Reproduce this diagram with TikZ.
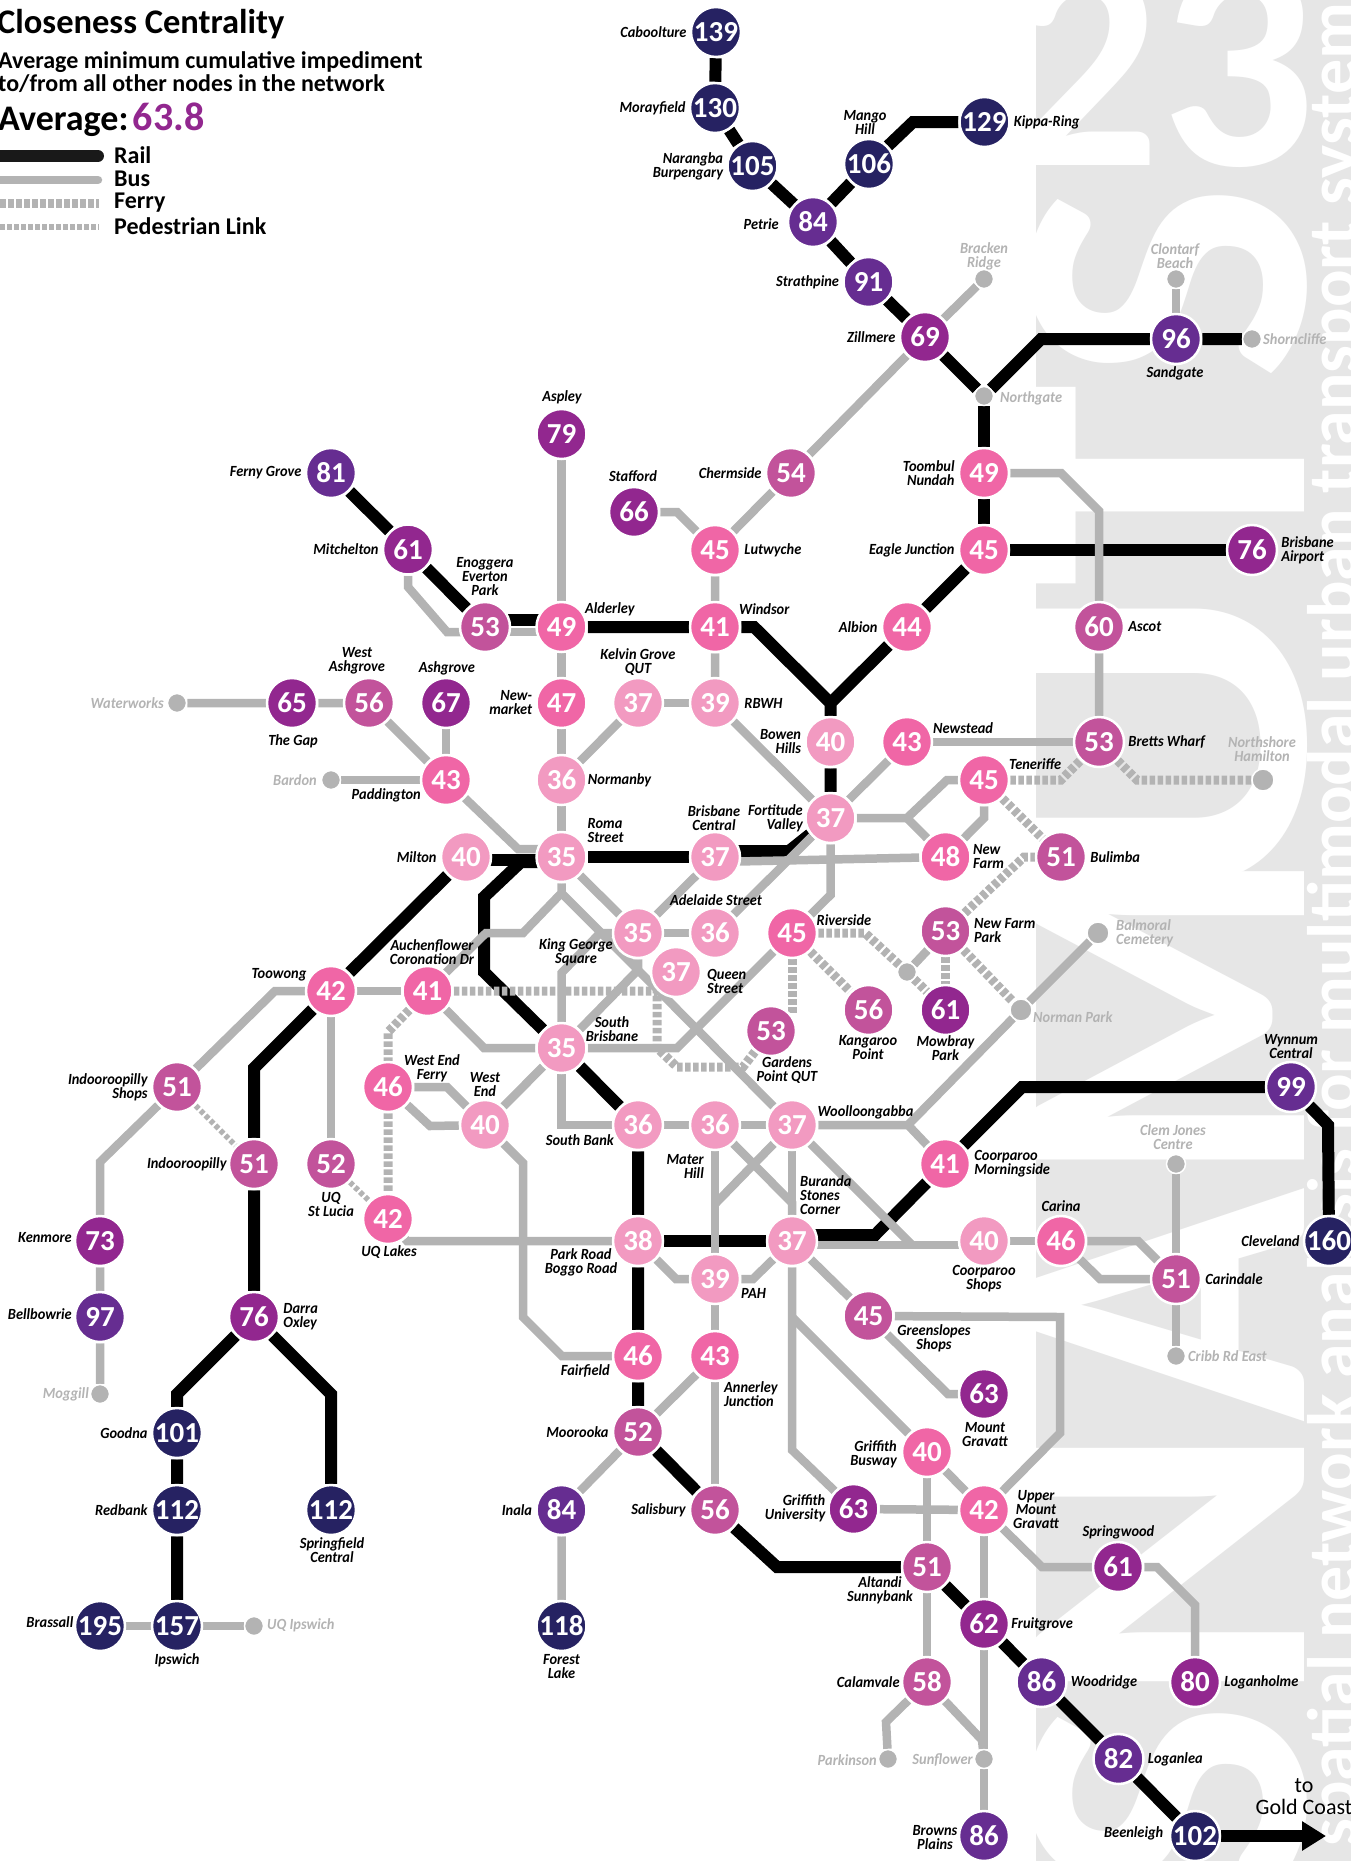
\documentclass[tikz,border=0pt]{standalone}
\usepackage{fontspec}
\setmainfont{Carlito}
\newfontfamily\labfont[FakeStretch=0.93]{Carlito}
\usetikzlibrary{positioning,backgrounds,arrows.meta}
\definecolor{litc}{HTML}{F29AC1}
\definecolor{hotc}{HTML}{F066A6}
\definecolor{mauc}{HTML}{C2539B}
\definecolor{plmc}{HTML}{92278F}
\definecolor{vioc}{HTML}{662D91}
\definecolor{navc}{HTML}{262262}
\definecolor{lnec}{HTML}{B3B3B3}
\definecolor{bakc}{HTML}{E6E6E6}
\tikzset{
    stn/.style={
        circle,
        draw=white,
        line width=2.5pt,
        minimum size=50pt,
        inner sep=0pt,
        text=white,
        font=\bfseries\fontsize{29}{29}\selectfont,
    },
    lit/.style={stn,fill=litc},
    hot/.style={stn,fill=hotc},
    mau/.style={stn,fill=mauc},
    plm/.style={stn,fill=plmc},
    vio/.style={stn,fill=vioc},
    nav/.style={stn,fill=navc},
    stp/.style={
        circle,
        draw=white,
        line width=1.5pt,
        fill=lnec,
        minimum size=19pt,
        inner sep=0pt,
    },
    lab/.style={
        inner sep=0pt,
        font=\labfont\bfseries\itshape\fontsize{15.5}{14}\selectfont,
    },
    labl/.style={lab,anchor=east,align=right},
    labr/.style={lab,anchor=west,align=left},
    labc/.style={lab,anchor=center,align=center},
    dim/.style={text=lnec},
    rail/.style={draw=black,line width=12pt},
    bus/.style={draw=lnec,line width=8.5pt},
    ferry/.style={draw=lnec,line width=9pt,dash pattern=on 5.5pt off 2.5pt},
    ped/.style={draw=lnec,line width=5.5pt,dash pattern=on 4.5pt off 2.5pt},
    leg/.style={inner sep=0pt,anchor=west,font=\bfseries\fontsize{24}{24}\selectfont},
    ttlt/.style={inner sep=0pt,anchor=base west},
    bigl/.style={inner sep=0pt,rotate=90,anchor=base,text=white,font=\bfseries\fontsize{420}{420}\selectfont},
}

\begin{document}
\begin{tikzpicture}[x=1pt,y=-1pt]
\useasboundingbox (0,0) rectangle (1351,1861);

\node[nav] (cab) at (716,32) {139};
\node[nav] (mor) at (715,108) {130};
\node[nav] (nar) at (752.5,166) {105};
\node[nav] (man) at (869,164) {106};
\node[nav] (kip) at (984.5,122) {129};
\node[vio] (pet) at (813,222) {84};
\node[vio] (str) at (868.5,282) {91};
\node[plm] (zil) at (925,337) {69};
\node[stp] (bra) at (984,279) {};
\node[stp] (nor) at (984,396) {};
\node[vio] (san) at (1176,339) {96};
\node[stp] (clo) at (1176,279) {};
\node[stp] (sho) at (1252,339) {};
\node[mau] (che) at (791,473) {54};
\node[hot] (too) at (984,473) {49};
\node[plm] (asp) at (561.5,434) {79};
\node[vio] (fer) at (331,473) {81};
\node[plm] (mit) at (408,549.5) {61};
\node[plm] (sta) at (634,512) {66};
\node[hot] (lut) at (715,550) {45};
\node[hot] (eag) at (984,550) {45};
\node[plm] (air) at (1252,550) {76};
\node[mau] (eno) at (485,627) {53};
\node[hot] (ald) at (561.5,627) {49};
\node[hot] (win) at (715,627) {41};
\node[hot] (alb) at (907,627) {44};
\node[mau] (asc) at (1099,627) {60};
\node[plm] (gap) at (292,703) {65};
\node[mau] (wes) at (369,703) {56};
\node[plm] (ash) at (446,703) {67};
\node[hot] (new) at (561.5,703) {47};
\node[lit] (kel) at (638,703) {37};
\node[lit] (rbw) at (715,703) {39};
\node[stp] (wat) at (177,703) {};
\node[lit] (bow) at (830.5,742) {40};
\node[hot] (nws) at (907,742) {43};
\node[mau] (bre) at (1099,742) {53};
\node[stp] (bar) at (331,780) {};
\node[hot] (pad) at (446,780) {43};
\node[lit] (nmb) at (561.5,780) {36};
\node[hot] (ten) at (984,780) {45};
\node[stp,minimum size=22pt] (nsh) at (1263,780) {};
\node[lit] (for) at (830.5,818) {37};
\node[lit] (mil) at (466,857) {40};
\node[lit] (rom) at (561.5,857) {35};
\node[lit] (cen) at (715,857) {37};
\node[hot] (nfa) at (945.5,857) {48};
\node[mau] (bul) at (1061,857) {51};
\node[lit] (kgs) at (638,933) {35};
\node[lit] (ade) at (715,933) {36};
\node[hot] (riv) at (792,933) {45};
\node[mau] (nfp) at (945.5,931) {53};
\node[stp,minimum size=22pt] (bal) at (1098,933) {};
\node[lit] (que) at (676,972) {37};
\node[stp] (gry) at (907,972) {};
\node[hot] (toe) at (331,991) {42};
\node[hot] (auc) at (427.5,991) {41};
\node[mau] (kan) at (868.5,1010) {56};
\node[plm] (mow) at (945.5,1010) {61};
\node[stp,minimum size=22pt] (nop) at (1021,1010) {};
\node[mau] (gar) at (771,1031) {53};
\node[lit] (sbr) at (561.5,1048) {35};
\node[mau] (ish) at (177,1087) {51};
\node[hot] (wef) at (388,1087) {46};
\node[vio] (wyn) at (1291,1087) {99};
\node[lit] (wen) at (485,1125) {40};
\node[lit] (sba) at (638,1125) {36};
\node[lit] (mat) at (715,1125) {36};
\node[lit] (woo) at (792,1125) {37};
\node[mau] (ind) at (254,1164) {51};
\node[mau] (stl) at (331,1164) {52};
\node[hot] (cmo) at (945,1164) {41};
\node[stp] (clj) at (1176,1164) {};
\node[hot] (uql) at (388,1219) {42};
\node[plm] (ken) at (100,1241) {73};
\node[lit] (prk) at (638,1241) {38};
\node[lit] (bur) at (792,1241) {37};
\node[lit] (coo) at (984,1241) {40};
\node[hot] (car) at (1061,1241) {46};
\node[nav] (cle) at (1329,1241) {160};
\node[lit] (pah) at (715,1279) {39};
\node[mau] (cdl) at (1176,1279) {51};
\node[vio] (bel) at (100,1317) {97};
\node[plm] (dar) at (254,1317) {76};
\node[mau] (grs) at (868.5,1316) {45};
\node[hot] (fai) at (638,1356) {46};
\node[hot] (ann) at (715,1356) {43};
\node[stp] (cri) at (1176,1356) {};
\node[stp] (mog) at (100,1394) {};
\node[plm] (mtg) at (984,1394) {63};
\node[nav] (goo) at (177,1433) {101};
\node[mau] (moo) at (638,1432) {52};
\node[hot] (gbw) at (927,1452) {40};
\node[nav] (red) at (177,1510) {112};
\node[nav] (spf) at (331,1510) {112};
\node[vio] (ina) at (561.5,1510) {84};
\node[mau] (sal) at (715,1510) {56};
\node[plm] (gun) at (853.5,1509) {63};
\node[hot] (umg) at (984,1510) {42};
\node[mau] (alt) at (927,1567) {51};
\node[plm] (spw) at (1118,1567) {61};
\node[nav] (bsl) at (100,1626) {195};
\node[nav] (ips) at (177,1626) {157};
\node[stp] (uqi) at (254,1626) {};
\node[nav] (fla) at (561.5,1626) {118};
\node[plm] (fru) at (984,1624) {62};
\node[mau] (cal) at (927,1682) {58};
\node[vio] (wdr) at (1041.5,1682) {86};
\node[plm] (lgh) at (1195,1682) {80};
\node[stp] (par) at (888,1759) {};
\node[stp] (sun) at (984,1759) {};
\node[vio] (lgl) at (1118.5,1759) {82};
\node[vio] (brp) at (984,1836) {86};
\node[nav] (bee) at (1195,1836) {102};
\coordinate (gol) at (1326,1836);

\node[labl,left=3pt of cab] (lcab) {Caboolture};
\node[labl,left=3pt of mor] (lmor) {Morayfield};
\node[labl,left=3pt of nar] (lnar) {Narangba\\Burpengary};
\node[labc] (lman) at (865,122) {Mango\\Hill};
\node[labr,right=3pt of kip] (lkip) {Kippa-Ring};
\node[labl] (lpet) at (779,224) {Petrie};
\node[labl,left=3pt of str] (lstr) {Strathpine};
\node[labl,left=3pt of zil] (lzil) {Zillmere};
\node[labc,dim] (lbra) at (984,256) {Bracken\\Ridge};
\node[labc,dim] (lclo) at (1175,256) {Clontarf\\Beach};
\node[labr,dim] (lsho) at (1263,339) {Shorncliffe};
\node[labc] (lsan) at (1175,373) {Sandgate};
\node[labr,dim] (lnor) at (1000,398) {Northgate};
\node[labl,left=3pt of che] (lche) {Chermside};
\node[labl,left=3pt of too] (ltoo) {Toombul\\Nundah};
\node[labc] (lasp) at (562,397) {Aspley};
\node[labl,left=3pt of fer] (lfer) {Ferny Grove};
\node[labc] (lsta) at (633,476) {Stafford};
\node[labl,left=3pt of mit] (lmit) {Mitchelton};
\node[labc] (leno) at (485,577) {Enoggera\\Everton\\Park};
\node[labr,right=3pt of lut] (llut) {Lutwyche};
\node[labl,left=3pt of eag] (leag) {Eagle Junction};
\node[labr,right=3pt of air] (lair) {Brisbane\\Airport};
\node[labr] (lald) at (585,609) {Alderley};
\node[labr] (lwin) at (739,609) {Windsor};
\node[labl,left=3pt of alb] (lalb) {Albion};
\node[labr,right=3pt of asc] (lasc) {Ascot};
\node[labc] (lwes) at (357,661) {West\\Ashgrove};
\node[labc] (lash) at (447,668) {Ashgrove};
\node[labl,left=3pt of new] (lnew) {New-\\market};
\node[labc] (lkel) at (638,662) {Kelvin Grove\\QUT};
\node[labr,right=3pt of rbw] (lrbw) {RBWH};
\node[labc] (lgap) at (293,741) {The Gap};
\node[labl,dim] (lwat) at (164,703) {Waterworks};
\node[labl,dim] (lbar) at (317,780) {Bardon};
\node[labl] (lpad) at (421,795) {Paddington};
\node[labr,right=0pt of nmb] (lnmb) {Normanby};
\node[labl,left=3pt of mil] (lmil) {Milton};
\node[labr] (lrom) at (587.5,831) {Roma\\Street};
\node[labc] (lcen) at (714,818) {Brisbane\\Central};
\node[labl] (lfor) at (803,818) {Fortitude\\Valley};
\node[labl,left=3pt of bow] (lbow) {Bowen\\Hills};
\node[labr] (lnws) at (933,728) {Newstead};
\node[labr,right=3pt of bre] (lbre) {Bretts Wharf};
\node[labc,dim] (lnsh) at (1262,749) {Northshore\\Hamilton};
\node[labr] (lten) at (1009,764) {Teneriffe};
\node[labr] (lnfa) at (973,857) {New\\Farm};
\node[labr,right=3pt of bul] (lbul) {Bulimba};
\node[labr] (lriv) at (816.5,920) {Riverside};
\node[labr] (lnfp) at (974,931) {New Farm\\Park};
\node[labc] (lade) at (716,900) {Adelaide Street};
\node[labc] (lauc) at (432,952) {Auchenflower\\Coronation Dr};
\node[labc] (lkgs) at (576,952) {King George\\Square};
\node[labr] (lque) at (707,981) {Queen\\Street};
\node[labc] (ltoe) at (279,975) {Toowong};
\node[labc] (lsbr) at (612,1029) {South\\Brisbane};
\node[labc] (lgar) at (787,1070) {Gardens\\Point QUT};
\node[labc] (lkan) at (868,1048) {Kangaroo\\Point};
\node[labc] (lmow) at (945.5,1048) {Mowbray\\Park};
\node[labr,dim] (lnop) at (1033,1017) {Norman Park};
\node[labr,dim] (lbal) at (1116,933) {Balmoral\\Cemetery};
\node[labc] (lwyn) at (1291,1047) {Wynnum\\Central};
\node[labc] (lwef) at (432,1068) {West End\\Ferry};
\node[labc] (lwen) at (485,1085) {West\\End};
\node[labr] (lwoo) at (817.5,1112) {Woolloongabba};
\node[labl,left=3pt of ish] (lish) {Indooroopilly\\Shops};
\node[labl,left=1pt of ind] (lind) {Indooroopilly};
\node[labc] (lstl) at (331,1204) {UQ\\St Lucia};
\node[labc] (luql) at (389,1252) {UQ Lakes};
\node[labl] (lken) at (72,1238) {Kenmore};
\node[labl] (lbel) at (72,1314) {Bellbowrie};
\node[labr,right=3pt of dar] (ldar) {Darra\\Oxley};
\node[labl,dim] (lmog) at (89,1394) {Moggill};
\node[labl,left=3pt of goo] (lgoo) {Goodna};
\node[labl,left=3pt of red] (lred) {Redbank};
\node[labl] (lbsl) at (73.5,1622) {Brassall};
\node[labc] (lips) at (177,1660) {Ipswich};
\node[labc] (lspf) at (332,1550) {Springfield\\Central};
\node[labr,dim] (luqi) at (267,1625) {UQ Ipswich};
\node[labl] (lsba) at (614,1140) {South Bank};
\node[labl] (lmat) at (704,1166) {Mater\\Hill};
\node[labr] (lbur) at (800,1195) {Buranda\\Stones\\Corner};
\node[labr,right=3pt of cmo] (lcmo) {Coorparoo\\Morningside};
\node[labc] (lprk) at (581,1262) {Park Road\\Boggo Road};
\node[labr] (lpah) at (741,1293) {PAH};
\node[labc] (lcoo) at (984,1279) {Coorparoo\\Shops};
\node[labc] (lcar) at (1061,1206) {Carina};
\node[labr,right=3pt of cdl] (lcdl) {Carindale};
\node[labc,dim] (lclj) at (1173,1137) {Clem Jones\\Centre};
\node[labr,dim] (lcri) at (1188,1356) {Cribb Rd East};
\node[labl,left=3pt of cle] (lcle) {Cleveland};
\node[labc] (lgrs) at (934,1338) {Greenslopes\\Shops};
\node[labc] (lmtg) at (985,1435) {Mount\\Gravatt};
\node[labl] (lfai) at (610,1371) {Fairfield};
\node[labr] (lann) at (724,1394) {Annerley\\Junction};
\node[labl,left=3pt of moo] (lmoo) {Moorooka};
\node[labl] (lgbw) at (897,1454) {Griffith\\Busway};
\node[labl] (lgun) at (825.5,1508) {Griffith\\University};
\node[labc] (lumg) at (1036,1510) {Upper\\Mount\\Gravatt};
\node[labc] (lspw) at (1118.5,1532) {Springwood};
\node[labl,left=3pt of ina] (lina) {Inala};
\node[labl,left=3pt of sal] (lsal) {Salisbury};
\node[labc] (lalt) at (880,1590) {Altandi\\Sunnybank};
\node[labr,right=1pt of fru] (lfru) {Fruitgrove};
\node[labc] (lfla) at (561.5,1667) {Forest\\Lake};
\node[labl,left=1pt of cal] (lcal) {Calamvale};
\node[labr,right=3pt of wdr] (lwdr) {Woodridge};
\node[labr,right=3pt of lgh] (llgh) {Loganholme};
\node[labr,right=3pt of lgl] (llgl) {Loganlea};
\node[labl,dim] (lpar) at (877,1760) {Parkinson};
\node[labl,dim] (lsun) at (973,1760) {Sunflower};
\node[labc] (lbrp) at (935,1838) {Browns\\Plains};
\node[labl] (lbee) at (1163.5,1833) {Beenleigh};
\node[inner sep=0pt,align=center,anchor=south,font=\fontsize{22}{22}\selectfont] (lgol) at (1304,1815) {to\\Gold Coast};

\node[ttlt,font=\bfseries\fontsize{34.5}{34}\selectfont] (ttl) at (-3,33) {Closeness Centrality};
\node[ttlt,font=\bfseries\fontsize{24}{24}\selectfont] (sb1) at (-2,68) {Average minimum cumulative impediment};
\node[ttlt,font=\bfseries\fontsize{24}{24}\selectfont] (sb2) at (-2,91) {to/from all other nodes in the network};
\node[ttlt,font=\bfseries\fontsize{36}{36}\selectfont] (avg) at (-2,130) {Average:};
\node[ttlt,font=\bfseries\fontsize{40}{40}\selectfont,text=plmc,right=4pt of avg.base east,anchor=base west] (avn) {63.8};
\node[leg] (lra) at (114,155) {Rail};
\node[leg] (lbu) at (114,179) {Bus};
\node[leg] (lfe) at (114,203) {Ferry};
\node[leg] (lpe) at (114,226) {Pedestrian Link};
\coordinate (ra0) at (-5,156);
\coordinate (ra1) at (98,156);
\coordinate (bu0) at (-5,180);
\coordinate (bu1) at (98,180);
\coordinate (fe0) at (0,203);
\coordinate (fe1) at (99,203);
\coordinate (pe0) at (0,227);
\coordinate (pe1) at (99,227);

\begin{scope}[on background layer]
\fill[bakc] (1036,0) rectangle (1351,1861);
\begin{scope}
\clip (1036,0) rectangle (1351,1861);
\node[bigl] (bs1) at (1304,1800) {S};
\node[bigl] (bgn) at (1304,1565) {\scalebox{1.03}[1]{N}};
\node[bigl] (bga) at (1304,1305) {\scalebox{0.92}[1]{A}};
\node[bigl] (bgm) at (1304,1016) {\scalebox{0.93}[1]{M}};
\node[bigl] (bgu) at (1304,746) {\scalebox{1.2}[1]{U}};
\node[bigl] (bgt) at (1304,486) {\scalebox{0.98}[1]{T}};
\node[bigl] (bs2) at (1304,282) {S};
\node[inner sep=0pt,anchor=base west,text=white,font=\bfseries\fontsize{306}{306}\selectfont] (bgd) at (1005,165) {23};
\node[inner sep=0pt,rotate=90,anchor=base,text=white,font=\bfseries\fontsize{70}{70}\selectfont] (subt) at (1356,911) {spatial network analysis for multimodal urban transport systems};
\end{scope}

\draw[rail,draw=black!90!white,line cap=round] (ra0) -- (ra1);
\draw[bus,line cap=round] (bu0) -- (bu1);
\draw[ferry] (fe0) -- (fe1);
\draw[ped] (pe0) -- (pe1);

\draw[rail] (cab) -- (mor) -- (nar) -- (pet) -- (str) -- (zil) -- (nor);
\draw[rail] (kip) -- (913,122) -- (man) -- (pet);
\draw[rail] (nor) -- (1041,339) -- (san) -- (sho);
\draw[rail] (nor) -- (too) -- (eag) -- (air);
\draw[rail] (eag) -- (alb) -- (830.5,703) -- (bow) -- (for);
\draw[rail] (fer) -- (mit) -- (eno);
\draw[rail] ([yshift=7pt]eno.center) -- ([yshift=7pt]ald.center);
\draw[rail] (ald) -- (win) -- (754,627) -- (830.5,703);
\draw[rail] (for) -- (789,851) -- ([yshift=6pt]cen.center);
\draw[rail] (cen) -- (rom);
\draw[rail] ([yshift=-3pt]rom.center) -- ([yshift=-3pt]mil.center);
\draw[rail] ([yshift=-5pt]rom.center) -- (521,862) -- (484,897) -- (484,972) -- (sbr) -- (sba) -- (prk) -- (fai) -- (moo) -- (sal) -- (777,1567) -- (alt) -- (fru) -- (wdr) -- (lgl) -- (bee);
\draw[rail,-{Triangle[length=24pt,width=28pt]}] (bee) -- (gol);
\draw[rail] (mil) -- (toe) -- (254,1068) -- (ind) -- (dar) -- (177,1394) -- (goo) -- (red) -- (ips);
\draw[rail] (dar) -- (331,1394) -- (spf);
\draw[rail] (prk) -- (bur);
\draw[rail] ([yshift=6pt]bur.center) -- (875,1235) -- (cmo) -- (1022,1087) -- (wyn) -- (1328,1125) -- (cle);

\draw[bus] (asp) -- (ald) -- (new) -- (nmb) -- (rom);
\draw[bus] (bra) -- (zil) -- (che) -- (lut);
\draw[bus] (sta) -- (677,512) -- (lut) -- (win) -- (rbw) -- (for);
\draw[bus] (kel) -- (rbw);
\draw[bus] (kel) -- (nmb);
\draw[bus] (wat) -- (gap) -- (wes) -- (pad);
\draw[bus] (ash) -- (pad);
\draw[bus] (bar) -- (pad);
\draw[bus] (pad) -- (518,849) -- ([yshift=8pt]rom.center);
\draw[bus] (mit) -- (408,587) -- (447,632) -- ([yshift=-5pt]eno.center);
\draw[bus] ([yshift=-5pt]eno.center) -- ([yshift=-5pt]ald.center);
\draw[bus] (nws) -- (for);
\draw[bus] (nws) -- (bre);
\draw[bus] (too) -- (1061,473) -- (1099,511) -- (asc) -- (bre);
\draw[bus] (for) -- (907,818) -- (947,780) -- (ten);
\draw[bus] (907,818) -- (nfa);
\draw[bus] (ten) -- (984,818) -- (nfa);
\draw[bus] ([yshift=-5pt]cen.center) -- (nfa);
\draw[bus] (for) -- (830.5,895) -- (riv) -- (677,1048) -- (sbr);
\draw[bus] (cen) -- (kgs);
\draw[bus] (rom) -- (kgs);
\draw[bus] (kgs) -- (ade);
\draw[bus] (ade) -- (for);
\draw[bus] (rom) -- (561.5,893) -- (523,933) -- (486,933) -- (auc);
\draw[bus] (561.5,893) -- (woo);
\draw[bus] (sbr) -- (561.5,973) -- (600,933) -- (kgs);
\draw[bus] (sbr) -- (638,970) -- (kgs);
\draw[bus] (toe) -- (auc);
\draw[bus] (toe) -- (stl);
\draw[bus] (toe) -- (275,991) -- (ish) -- (100,1162) -- (ken) -- (bel) -- (mog);
\draw[bus] (auc) -- (484,1048) -- (sbr);
\draw[bus] (wef) -- (447,1087) -- (wen);
\draw[bus] (wef) -- (430,1126) -- (wen);
\draw[bus] (wen) -- (sbr);
\draw[bus] (wen) -- (523,1163) -- (523,1317) -- (562,1356) -- (fai);
\draw[bus] (sbr) -- (561.5,1125) -- (sba) -- (mat) -- (woo);
\draw[bus] (woo) -- (908,1125) -- (cmo);
\draw[bus] (908,1125) -- (nop) -- (bal);
\draw[bus] (mat) -- (pah);
\draw[bus] (mat) -- (792,1203) -- (bur);
\draw[bus] (woo) -- (bur);
\draw[bus] (woo) -- (716,1203);
\draw[bus] (woo) -- (912,1245);
\draw[bus] ([yshift=-4pt]bur.center) -- ([yshift=-4pt]coo.center);
\draw[bus] (coo) -- (car);
\draw[bus] (uql) -- (407,1241) -- (prk);
\draw[bus] (prk) -- (676,1279) -- (pah);
\draw[bus] (pah) -- (753,1279) -- (bur);
\draw[bus] (pah) -- (ann) -- (sal);
\draw[bus] (ann) -- (moo) -- (ina) -- (fla);
\draw[bus] (bur) -- (grs);
\draw[bus] (grs) -- (948,1394) -- (mtg);
\draw[bus] (grs) -- (1060,1317) -- (1060,1433) -- (umg);
\draw[bus] (bur) -- (792,1450) -- (gun);
\draw[bus] (792,1317) -- (gbw);
\draw[bus] (gbw) -- (alt) -- (cal);
\draw[bus] (gbw) -- (umg);
\draw[bus] (gun) -- (umg);
\draw[bus] (umg) -- (fru) -- (sun) -- (brp);
\draw[bus] (umg) -- (1042,1567) -- (spw) -- (1157,1567) -- (1195,1605) -- (lgh);
\draw[bus] (cal) -- (886,1722) -- (par);
\draw[bus] (cal) -- (982,1740) -- (sun);
\draw[bus] (car) -- (1138,1241) -- (cdl);
\draw[bus] (car) -- (1100,1279) -- (cdl);
\draw[bus] (clj) -- (cdl) -- (cri);
\draw[bus] (bsl) -- (ips) -- (uqi);
\draw[bus] (clo) -- (san);
\draw[bus] (nfp) -- (gry);

\draw[ferry] (auc) -- (657,991) -- (657,1048) -- (677,1067) -- (743,1067) -- (gar);
\draw[ferry] (auc) -- (388,1032) -- (wef) -- (uql);
\draw[ferry] (riv) -- (792,1013) -- (gar);
\draw[ferry] (riv) -- (kan);
\draw[ferry] (riv) -- (865,933) -- (gry) -- (mow);
\draw[ferry] (nfp) -- (mow);
\draw[ferry] (nfp) -- (nop);
\draw[ferry] (nfp) -- (1024,857) -- (bul);
\draw[ferry] (ten) -- (1061,780) -- (bre);
\draw[ferry] (bre) -- (1137,780) -- (nsh);
\draw[ferry] (ten) -- (bul);
\draw[ped] (ish) -- (ind);
\draw[ped] (stl) -- (uql);
\end{scope}
\end{tikzpicture}
\end{document}
